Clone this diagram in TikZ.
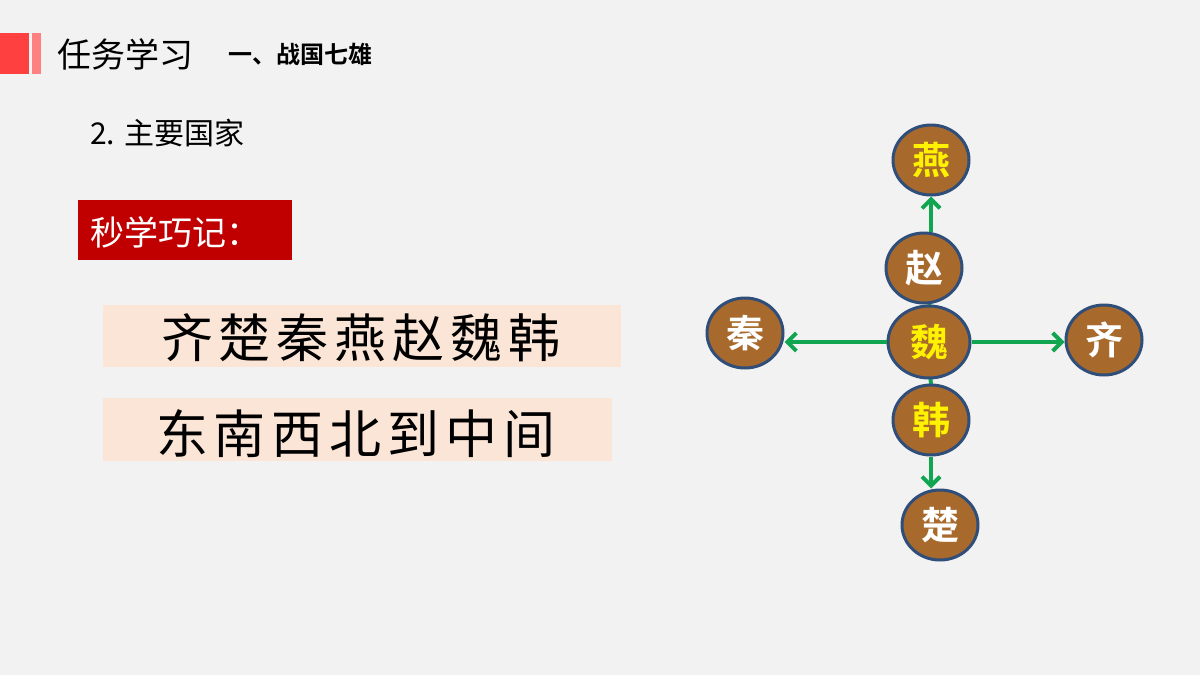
\documentclass[tikz,border=0pt]{standalone}
\usepackage{fontspec}
\newfontfamily\cjk{Noto Sans CJK SC}
\newfontfamily\cjkb{Noto Sans CJK SC Bold}
\usetikzlibrary{arrows.meta,shapes.geometric}
\definecolor{bg}{HTML}{F2F2F2}
\definecolor{brn}{HTML}{A86A2C}
\definecolor{bdr}{HTML}{2F4E7A}
\definecolor{grn}{HTML}{10A550}
\definecolor{pinkbox}{HTML}{FBE5D6}
\definecolor{redbox}{HTML}{C00000}
\tikzset{
 st/.style={ellipse,fill=brn,draw=bdr,line width=3pt,minimum width=76pt,minimum height=70pt,inner sep=0pt,font=\cjkb\fontsize{38}{38}\selectfont,text=white},
 yl/.style={text=yellow},
 arr/.style={grn,line width=4pt,-{Straight Barb[length=9pt,width=18pt,line width=4pt]}}
}
\begin{document}
\begin{tikzpicture}[x=1pt,y=-1pt]
\fill[bg] (0,0) rectangle (1200,675);
\useasboundingbox (0,0) rectangle (1200,675);
\fill[red!75!white] (0,33) rectangle (29,74);
\fill[red!50!white] (32,33) rectangle (41,74);
\node[anchor=west,font=\cjk\fontsize{34}{34}\selectfont,inner sep=0] (t1) at (57,54) {任务学习};
\node[anchor=west,font=\cjkb\fontsize{24}{24}\selectfont,inner sep=0] (t2) at (228,54) {一、战国七雄};
\node[anchor=west,font=\cjk\fontsize{30}{30}\selectfont,inner sep=0] (t3) at (90,133) {2. 主要国家};
\node[fill=redbox,anchor=north west,minimum width=214pt,minimum height=60pt,inner sep=0] (rb) at (78,200) {};
\node[anchor=west,text=white,font=\cjk\fontsize{34}{34}\selectfont,inner sep=0] (rt) at (90,232) {秒学巧记：};
\node[fill=pinkbox,anchor=north west,minimum width=518pt,minimum height=62pt,inner sep=0] (p1) at (103,305) {};
\node[font=\cjk\fontsize{52}{52}\selectfont,inner sep=0] (p1t) at (361,338) {齐\kern6pt 楚\kern6pt 秦\kern6pt 燕\kern6pt 赵\kern6pt 魏\kern6pt 韩};
\node[fill=pinkbox,anchor=north west,minimum width=509pt,minimum height=63pt,inner sep=0] (p2) at (103,398) {};
\node[font=\cjk\fontsize{52}{52}\selectfont,inner sep=0] (p2t) at (356,434) {东\kern6pt 南\kern6pt 西\kern6pt 北\kern6pt 到\kern6pt 中\kern6pt 间};
\draw[grn,line width=4pt] (929,290) -- (931,395);
\node[st] (zhao) at (924,268) {赵};
\node[st,yl] (yan) at (931,160) {燕};
\node[st,yl] (han) at (931,420) {韩};
\node[st,yl,minimum width=82pt,minimum height=72pt] (wei) at (929,342) {魏};
\node[st] (chu) at (940,525) {楚};
\node[st] (qin) at (745,333) {秦};
\node[st] (qi) at (1104,340) {齐};
\draw[arr] (zhao.north -| yan) -- (yan.south);
\draw[arr] (wei.west) -- (qin.east |- wei.west);
\draw[arr] (wei.east) -- (qi.west |- wei.east);
\draw[arr] (han.south) -- (han.south |- chu.north);
\end{tikzpicture}
\end{document}
